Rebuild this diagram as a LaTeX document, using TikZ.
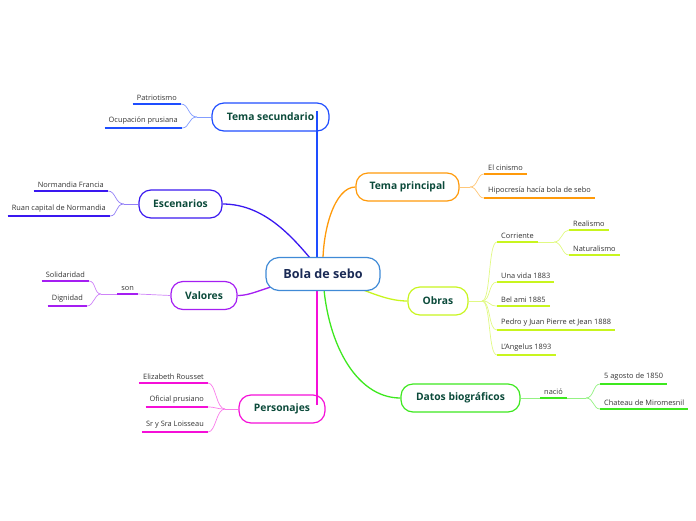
\documentclass[tikz,border=0pt]{standalone}
\usepackage{fontspec}
\setmainfont{Open Sans}
\usetikzlibrary{backgrounds}

\definecolor{bolac}{HTML}{3F8AD6}
\definecolor{bolatext}{HTML}{1A2A55}
\definecolor{topictext}{HTML}{0B4A3A}
\definecolor{leaftext}{HTML}{333333}
\definecolor{tsc}{HTML}{1E4DFF}
\definecolor{escc}{HTML}{3A18F0}
\definecolor{valc}{HTML}{A51EF2}
\definecolor{persc}{HTML}{F50FD8}
\definecolor{tpc}{HTML}{FF9A0A}
\definecolor{obc}{HTML}{C8F51E}
\definecolor{dbc}{HTML}{3DE81E}

\begin{document}
\begin{tikzpicture}[x=1pt, y=-1pt,
    bola/.style={draw=bolac, fill=white, line width=1.2pt, rounded corners=13pt,
      minimum height=33pt, minimum width=114pt, text=bolatext,
      font=\fontsize{12.6}{14}\selectfont\bfseries},
    topic/.style={draw=#1, line width=1.2pt, rounded corners=12pt,
      minimum height=28pt, text=topictext,
      font=\fontsize{10.3}{12}\selectfont\bfseries},
    leaf/.style={inner xsep=4pt, inner ysep=3.5pt, text=leaftext,
      font=\fontsize{7.4}{8.5}\selectfont,
      append after command={\pgfextra{\let\leafnode=\tikzlastnode}
        (\leafnode.south west) edge[line width=1.8pt, #1] (\leafnode.south east)}},
    twig/.style={line width=0.7pt, #1!55},
    limb/.style={line width=1.3pt, #1}]
  \useasboundingbox (0,0) rectangle (696,520);

  % central topic
  \node[bola] (bola) at (323,274) {Bola de sebo};

  % main topics
  \node[topic=tsc, minimum width=117pt] (ts) at (270.5,117) {Tema secundario};
  \node[topic=escc, minimum width=83pt] (esc) at (180.5,204) {Escenarios};
  \node[topic=valc, minimum width=66pt] (val) at (204,295.5) {Valores};
  \node[topic=persc, minimum width=86pt] (pers) at (282,409) {Personajes};
  \node[topic=tpc, minimum width=103pt] (tp) at (407.5,187) {Tema principal};
  \node[topic=obc, minimum width=60pt] (ob) at (438,301) {Obras};
  \node[topic=dbc, minimum width=119pt] (db) at (460.5,398) {Datos biográficos};

  % left leaves
  \node[leaf=tsc, anchor=south east] (pat) at (181,104) {Patriotismo};
  \node[leaf=tsc, anchor=south east] (ocu) at (182,128) {Ocupación prusiana};
  \node[leaf=escc, anchor=south east] (nor) at (108,191) {Normandia Francia};
  \node[leaf=escc, anchor=south east] (ruan) at (110,216) {Ruan capital de Normandia};
  \node[leaf=valc, anchor=south east] (son) at (138,294) {son};
  \node[leaf=valc, anchor=south east] (sol) at (89,281) {Solidaridad};
  \node[leaf=valc, anchor=south east] (dig) at (87,306) {Dignidad};
  \node[leaf=persc, anchor=south east] (eli) at (208,383) {Elizabeth Rousset};
  \node[leaf=persc, anchor=south east] (ofi) at (208,407) {Oficial prusiano};
  \node[leaf=persc, anchor=south east] (sra) at (208,432) {Sr y Sra Loisseau};

  % right leaves
  \node[leaf=tpc, anchor=south west] (cin) at (484,174) {El cinismo};
  \node[leaf=tpc, anchor=south west] (hip) at (484,198) {Hipocresía hacía bola de sebo};
  \node[leaf=obc, anchor=south west] (cor) at (497,242) {Corriente};
  \node[leaf=obc, anchor=south west] (rea) at (569,230) {Realismo};
  \node[leaf=obc, anchor=south west] (nat) at (569,255) {Naturalismo};
  \node[leaf=obc, anchor=south west] (una) at (497,282) {Una vida 1883};
  \node[leaf=obc, anchor=south west] (bel) at (497,306) {Bel ami 1885};
  \node[leaf=obc, anchor=south west] (ped) at (497,330) {Pedro y Juan Pierre et Jean 1888};
  \node[leaf=obc, anchor=south west] (ang) at (497,355) {L'Angelus 1893};
  \node[leaf=dbc, anchor=south west] (nac) at (540,398) {nació};
  \node[leaf=dbc, anchor=south west] (ago) at (600,384) {5 agosto de 1850};
  \node[leaf=dbc, anchor=south west] (cha) at (600,409) {Chateau de Miromesnil};

  % forks
  \coordinate (tsf) at (197,117);
  \coordinate (escf) at (124,204);
  \coordinate (valf) at (101,294);
  \coordinate (persf) at (225,409);
  \coordinate (tpf) at (470,187);
  \coordinate (obf) at (482,301);
  \coordinate (corf) at (554,242);
  \coordinate (nacf) at (586,398);
  \coordinate (tsend) at (317,111);
  \coordinate (persend) at (317,405);

  % twigs
  \draw[twig=tsc] (ts.west) -- (tsf);
  \foreach \n in {pat,ocu}
    \draw[twig=tsc] (tsf) .. controls +(-9,0) and +(8,0) .. (\n.south east);
  \draw[twig=escc] (esc.west) -- (escf);
  \foreach \n in {nor,ruan}
    \draw[twig=escc] (escf) .. controls +(-9,0) and +(8,0) .. (\n.south east);
  \draw[twig=valc] (val.west) -- (son.south east);
  \draw[twig=valc] (son.south west) -- (valf);
  \foreach \n in {sol,dig}
    \draw[twig=valc] (valf) .. controls +(-7,0) and +(7,0) .. (\n.south east);
  \draw[twig=persc] (pers.west) -- (persf);
  \foreach \n in {eli,ofi,sra}
    \draw[twig=persc] (persf) .. controls +(-9,0) and +(8,0) .. (\n.south east);
  \draw[twig=tpc] (tp.east) -- (tpf);
  \foreach \n in {cin,hip}
    \draw[twig=tpc] (tpf) .. controls +(8,0) and +(-7,0) .. (\n.south west);
  \draw[twig=obc] (ob.east) -- (obf);
  \foreach \n in {cor,una,bel,ped,ang}
    \draw[twig=obc] (obf) .. controls +(9,0) and +(-9,0) .. (\n.south west);
  \draw[twig=obc] (cor.south east) -- (corf);
  \foreach \n in {rea,nat}
    \draw[twig=obc] (corf) .. controls +(8,0) and +(-7,0) .. (\n.south west);
  \draw[twig=dbc] (db.east) -- (nac.south west);
  \draw[twig=dbc] (nac.south east) -- (nacf);
  \foreach \n in {ago,cha}
    \draw[twig=dbc] (nacf) .. controls +(8,0) and +(-7,0) .. (\n.south west);

  % limbs from the central topic
  \begin{scope}[on background layer]
    \draw[limb=tsc] (tsend) -- (tsend |- bola.center);
    \draw[limb=persc] (persend) -- (persend |- bola.center);
    \draw[limb=escc] (esc.east) .. controls (268,204) and (298,243) .. (bola.center);
    \draw[limb=tpc] (tp.west) .. controls (335,187) and (321,230) .. (bola.center);
    \draw[limb=valc] (val.east) .. controls (255,295.5) and (265,285) .. (bola.center);
    \draw[limb=obc] (ob.west) .. controls (385,301) and (365,290) .. (bola.center);
    \draw[limb=dbc] (db.west) .. controls (355,398) and (325,340) .. (bola.center);
  \end{scope}
\end{tikzpicture}
\end{document}
